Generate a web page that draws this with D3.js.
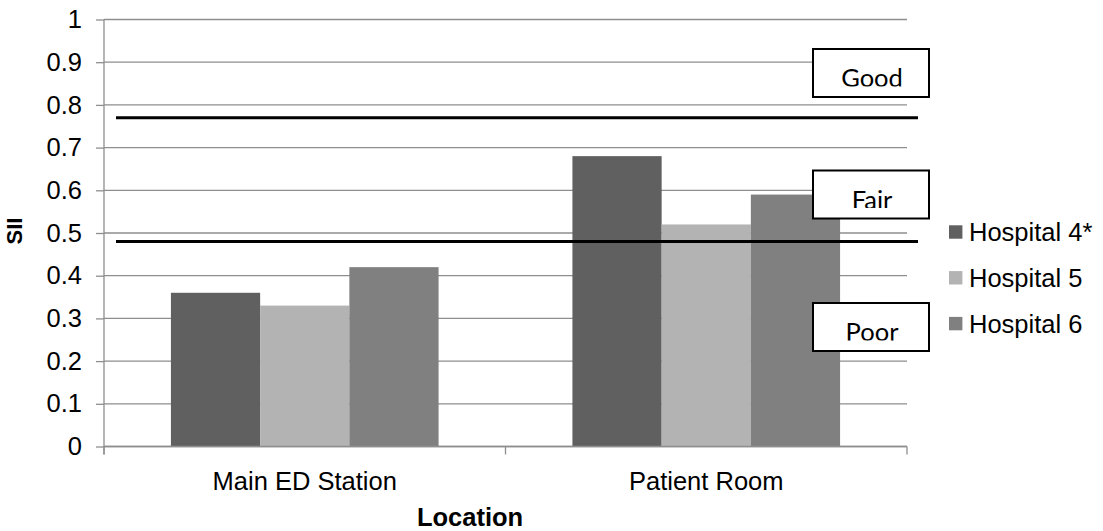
<!DOCTYPE html>
<html>
<head>
<meta charset="utf-8">
<script src="https://cdn.jsdelivr.net/npm/d3@7/dist/d3.min.js"></script>
<style>
  html, body { margin: 0; padding: 0; background: #fff; }
  svg { display: block; }
</style>
</head>
<body>
<svg id="chart" width="1103" height="531"></svg>
<script>
// Speech Intelligibility Index by location and hospital
const categories = ["Main ED Station", "Patient Room"];
const seriesNames = ["Hospital 4*", "Hospital 5", "Hospital 6"];
const hospital4 = [0.36, 0.68];
const hospital5 = [0.33, 0.52];
const hospital6 = [0.42, 0.59];
const yTickValues = [0, 0.1, 0.2, 0.3, 0.4, 0.5, 0.6, 0.7, 0.8, 0.9, 1];
const yTickLabels = ["0", "0.1", "0.2", "0.3", "0.4", "0.5", "0.6", "0.7", "0.8", "0.9", "1"];
// SII rating thresholds drawn as reference lines
const thresholds = [0.77, 0.48];
const ratingLabels = ["Good", "Fair", "Poor"];

const seriesValues = [hospital4, hospital5, hospital6];
const colors = ["#606060", "#b3b3b3", "#808080"];

const svg = d3.select("#chart");
const plot = { left: 104, right: 907, top: 19.5, bottom: 446.5 };

const y = d3.scaleLinear().domain([0, 1]).range([plot.bottom, plot.top]);
const x0 = d3.scaleBand().domain(categories).range([plot.left, plot.right]).paddingInner(0).paddingOuter(0);
const x1 = d3.scaleBand().domain(seriesNames).range([0, x0.bandwidth()]).paddingInner(0).paddingOuter(0.75);

const axisFont = "'Liberation Sans', Arial, sans-serif";
const gridColor = "#8e8e8e";

// horizontal gridlines
svg.append("g")
  .selectAll("line")
  .data(yTickValues)
  .join("line")
  .attr("x1", plot.left)
  .attr("x2", plot.right)
  .attr("y1", d => y(d))
  .attr("y2", d => y(d))
  .attr("stroke", gridColor)
  .attr("stroke-width", 1.3);

// y axis
const yAxis = svg.append("g")
  .attr("transform", `translate(${plot.left},0)`)
  .call(d3.axisLeft(y).tickValues(yTickValues).tickFormat((d, i) => yTickLabels[i]).tickSize(8).tickPadding(14));
yAxis.select(".domain").attr("stroke", gridColor).attr("stroke-width", 1.3)
  .attr("d", `M0,${plot.top}V${plot.bottom + 8}`);
yAxis.selectAll(".tick line").attr("stroke", gridColor).attr("stroke-width", 1.3);
yAxis.selectAll(".tick text")
  .attr("fill", "#000")
  .style("font-family", axisFont)
  .style("font-size", "25.5px");

// bars
const groups = svg.append("g")
  .selectAll("g")
  .data(categories)
  .join("g")
  .attr("transform", c => `translate(${x0(c)},0)`);

groups.selectAll("rect")
  .data((c, ci) => seriesNames.map((s, si) => ({ s, si, v: seriesValues[si][ci] })))
  .join("rect")
  .attr("x", d => x1(d.s))
  .attr("width", x1.bandwidth())
  .attr("y", d => y(d.v))
  .attr("height", d => y(0) - y(d.v))
  .attr("fill", d => colors[d.si]);

// x axis
const xAxis = svg.append("g")
  .attr("transform", `translate(0,${plot.bottom})`);
xAxis.append("line")
  .attr("x1", plot.left).attr("x2", plot.right)
  .attr("stroke", gridColor).attr("stroke-width", 1.3);
const xTicks = [plot.left, ...categories.slice(1).map(c => x0(c)), plot.right];
xAxis.selectAll("line.tk")
  .data(xTicks)
  .join("line")
  .attr("class", "tk")
  .attr("x1", d => d).attr("x2", d => d)
  .attr("y1", 0).attr("y2", 8)
  .attr("stroke", gridColor).attr("stroke-width", 1.3);
xAxis.selectAll("text")
  .data(categories)
  .join("text")
  .attr("x", c => x0(c) + x0.bandwidth() / 2)
  .attr("y", 43)
  .attr("text-anchor", "middle")
  .style("font-family", axisFont)
  .style("font-size", "25.5px")
  .text(c => c);

// threshold lines
svg.append("g")
  .selectAll("line")
  .data(thresholds)
  .join("line")
  .attr("x1", plot.left + 12)
  .attr("x2", plot.right + 11)
  .attr("y1", d => y(d))
  .attr("y2", d => y(d))
  .attr("stroke", "#000")
  .attr("stroke-width", 3);

// rating boxes
const boxW = 116, boxH = 48, boxX = 813;
const boxTops = [49, 170.5, 303];
const defs = svg.append("defs");
ratingLabels.forEach((label, i) => {
  const top = boxTops[i];
  defs.append("clipPath").attr("id", "clip" + i)
    .append("rect")
    .attr("x", boxX).attr("y", top)
    .attr("width", boxW).attr("height", 37.5);
  const g = svg.append("g");
  g.append("rect")
    .attr("x", boxX).attr("y", top)
    .attr("width", boxW).attr("height", boxH)
    .attr("fill", "#fff")
    .attr("stroke", "#000")
    .attr("stroke-width", 2);
  g.append("text")
    .attr("clip-path", `url(#clip${i})`)
    .attr("x", boxX + boxW / 2 + 1)
    .attr("y", top + 38)
    .attr("text-anchor", "middle")
    .style("font-family", "Lato, 'Open Sans', sans-serif")
    .style("font-size", "25.5px")
    .text(label);
});

// legend
const legend = svg.append("g").attr("transform", "translate(949,232)");
const li = legend.selectAll("g")
  .data(seriesNames)
  .join("g")
  .attr("transform", (d, i) => `translate(0,${i * 45.8})`);
li.append("rect")
  .attr("x", 0).attr("y", -6.7)
  .attr("width", 13.4).attr("height", 13.4)
  .attr("fill", (d, i) => colors[i]);
li.append("text")
  .attr("x", 20)
  .attr("y", 0)
  .attr("dy", "0.35em")
  .style("font-family", axisFont)
  .style("font-size", "25.5px")
  .text(d => d);

// axis titles
svg.append("text")
  .attr("x", 470)
  .attr("y", 526)
  .attr("text-anchor", "middle")
  .style("font-family", axisFont)
  .style("font-size", "25.5px")
  .style("font-weight", "bold")
  .text("Location");

svg.append("text")
  .attr("transform", "translate(22,231) rotate(-90)")
  .attr("text-anchor", "middle")
  .style("font-family", axisFont)
  .style("font-size", "22px")
  .style("font-weight", "bold")
  .text("SII");
</script>
</body>
</html>
